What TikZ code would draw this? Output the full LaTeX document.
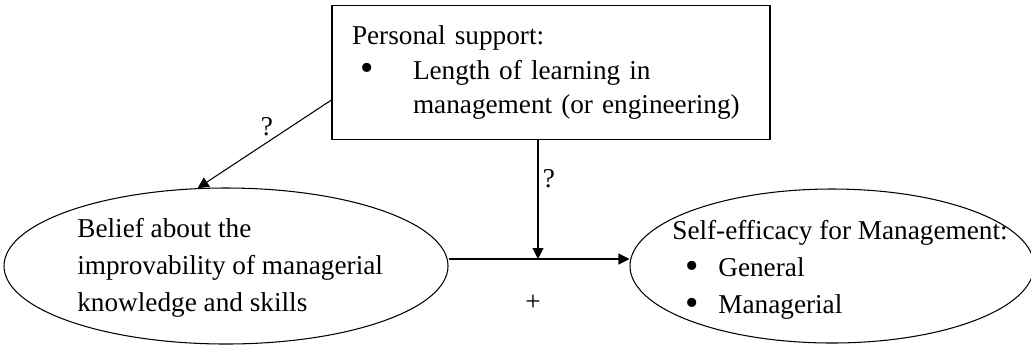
\documentclass[tikz,border=0pt]{standalone}
\usepackage{fontspec}
\setmainfont{Liberation Serif}
\usepackage{tikz}
\usetikzlibrary{positioning, arrows.meta, shapes.geometric}
\newcommand{\bigdot}{\raisebox{-0.15ex}{\scalebox{1.4}{\textbullet}}}
\tikzset{
  factbox/.style={draw, line width=0.6pt, rectangle, align=left,
                  text width=7.96cm, inner sep=0.4cm, minimum height=2.5cm,
                  font=\fontsize{15.5}{19.5}\selectfont},
  oval/.style={draw, line width=0.6pt, ellipse, inner sep=0pt},
  ovaltxt/.style={align=left, inner sep=0pt, anchor=west,
                  font=\fontsize{15.5}{21}\selectfont},
  arr/.style={-{Triangle[length=2.2mm, width=2.2mm]}, line width=0.6pt},
  lbl/.style={font=\fontsize{15.5}{18}\selectfont, inner sep=0pt},
}
\begin{document}
\begin{tikzpicture}
  \useasboundingbox (0,0) rectangle (20.62,-6.92);

  % predictor box
  \node[factbox] (support) at (11.02,-1.45)
    {Personal support:\\
     \hspace*{0.16cm}\makebox[1.06cm][l]{\bigdot}Length of learning in\\
     \hspace*{1.22cm}management (or engineering)};

  % the two constructs
  \node[oval, minimum width=8.88cm, minimum height=3.12cm] (belief)
    at (4.52,-5.32) {};
  \node[ovaltxt] (beliefTxt) at (1.54,-5.36)
    {Belief about the\\
     improvability of managerial\\
     knowledge and skills};

  \node[oval, minimum width=8.08cm, minimum height=3.08cm] (efficacy)
    at (16.64,-5.32) {};
  \node[ovaltxt] (efficacyTxt) at (13.44,-5.4)
    {Self-efficacy for Management:\\
     \hspace*{0.26cm}\makebox[0.66cm][l]{\bigdot}General\\
     \hspace*{0.26cm}\makebox[0.66cm][l]{\bigdot}Managerial};

  % paths
  \coordinate (join) at (10.76,-5.18);
  \draw[arr] ([yshift=-0.55cm]support.west) -- (belief.110);
  \draw[arr] (support.south -| join) -- (join);
  \draw[arr] (belief.east |- join) -- (efficacy.west |- join);

  \node[lbl] (qleft) at (5.34,-2.54) {?};
  \node[lbl] (qmid) at (10.98,-3.58) {?};
  \node[lbl] (plus) at (10.66,-6.06) {+};
\end{tikzpicture}
\end{document}
